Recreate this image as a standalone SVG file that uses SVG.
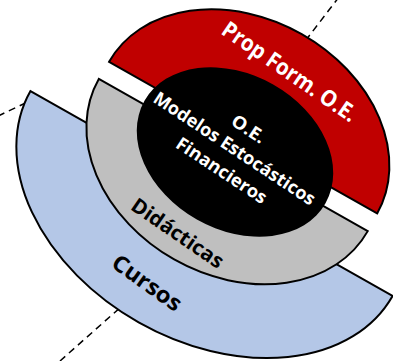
<svg xmlns="http://www.w3.org/2000/svg" width="393" height="361" viewBox="0 0 393 361">
<style>
.dash{stroke:#000;stroke-width:1.5;stroke-dasharray:7 5;fill:none}
.band{stroke:#000;stroke-width:2;stroke-linejoin:miter}
.t{font-family:"Open Sans","Noto Sans","Liberation Sans",sans-serif;font-weight:bold;text-anchor:middle}
.w{fill:#fff}
.k{fill:#000}
</style>
<rect width="393" height="361" fill="#fff"/>
<g id="connectors">
<line class="dash" x1="339" y1="-3" x2="306" y2="40"/>
<line class="dash" x1="-2" y1="116" x2="32" y2="100"/>
<line class="dash" x1="60" y1="361" x2="122" y2="306"/>
</g>
<g transform="translate(235,152) rotate(29.5)">
<g id="cursos">
<path class="band" fill="#B4C7E7" d="M-208,47.7 A208,148 0 0 0 208,47.7 Z"/>
<text class="t k" transform="translate(-12,157) rotate(6)" y="8" font-size="22.5" textLength="80" lengthAdjust="spacingAndGlyphs">Cursos</text>
</g>
<g id="didacticas">
<path class="band" fill="#BFBFBF" d="M-154.5,3.5 A154.5,120 0 0 0 154.5,3.5 Z"/>
<text class="t k" transform="translate(-10,98.5) rotate(5)" y="7.5" font-size="20.5" textLength="107" lengthAdjust="spacingAndGlyphs">Didácticas</text>
</g>
<g id="propform">
<path class="band" fill="#C00000" d="M-154,-16.5 A154,119 0 0 1 154,-16.5 Z"/>
<text class="t w" transform="translate(8,-97) rotate(5)" y="8" font-size="22.5" textLength="158" lengthAdjust="spacingAndGlyphs">Prop Form. O.E.</text>
</g>
<g id="oe">
<ellipse cx="0" cy="0" rx="104" ry="77.5" fill="#000"/>
<text class="t w" font-size="18" transform="rotate(4)">
<tspan x="1" y="-20.5" textLength="37" lengthAdjust="spacingAndGlyphs">O.E.</tspan>
<tspan x="0" y="3.5" textLength="190" lengthAdjust="spacingAndGlyphs">Modelos Estocásticos</tspan>
<tspan x="-1" y="29" textLength="105" lengthAdjust="spacingAndGlyphs">Financieros</tspan>
</text>
</g>
</g>
</svg>
